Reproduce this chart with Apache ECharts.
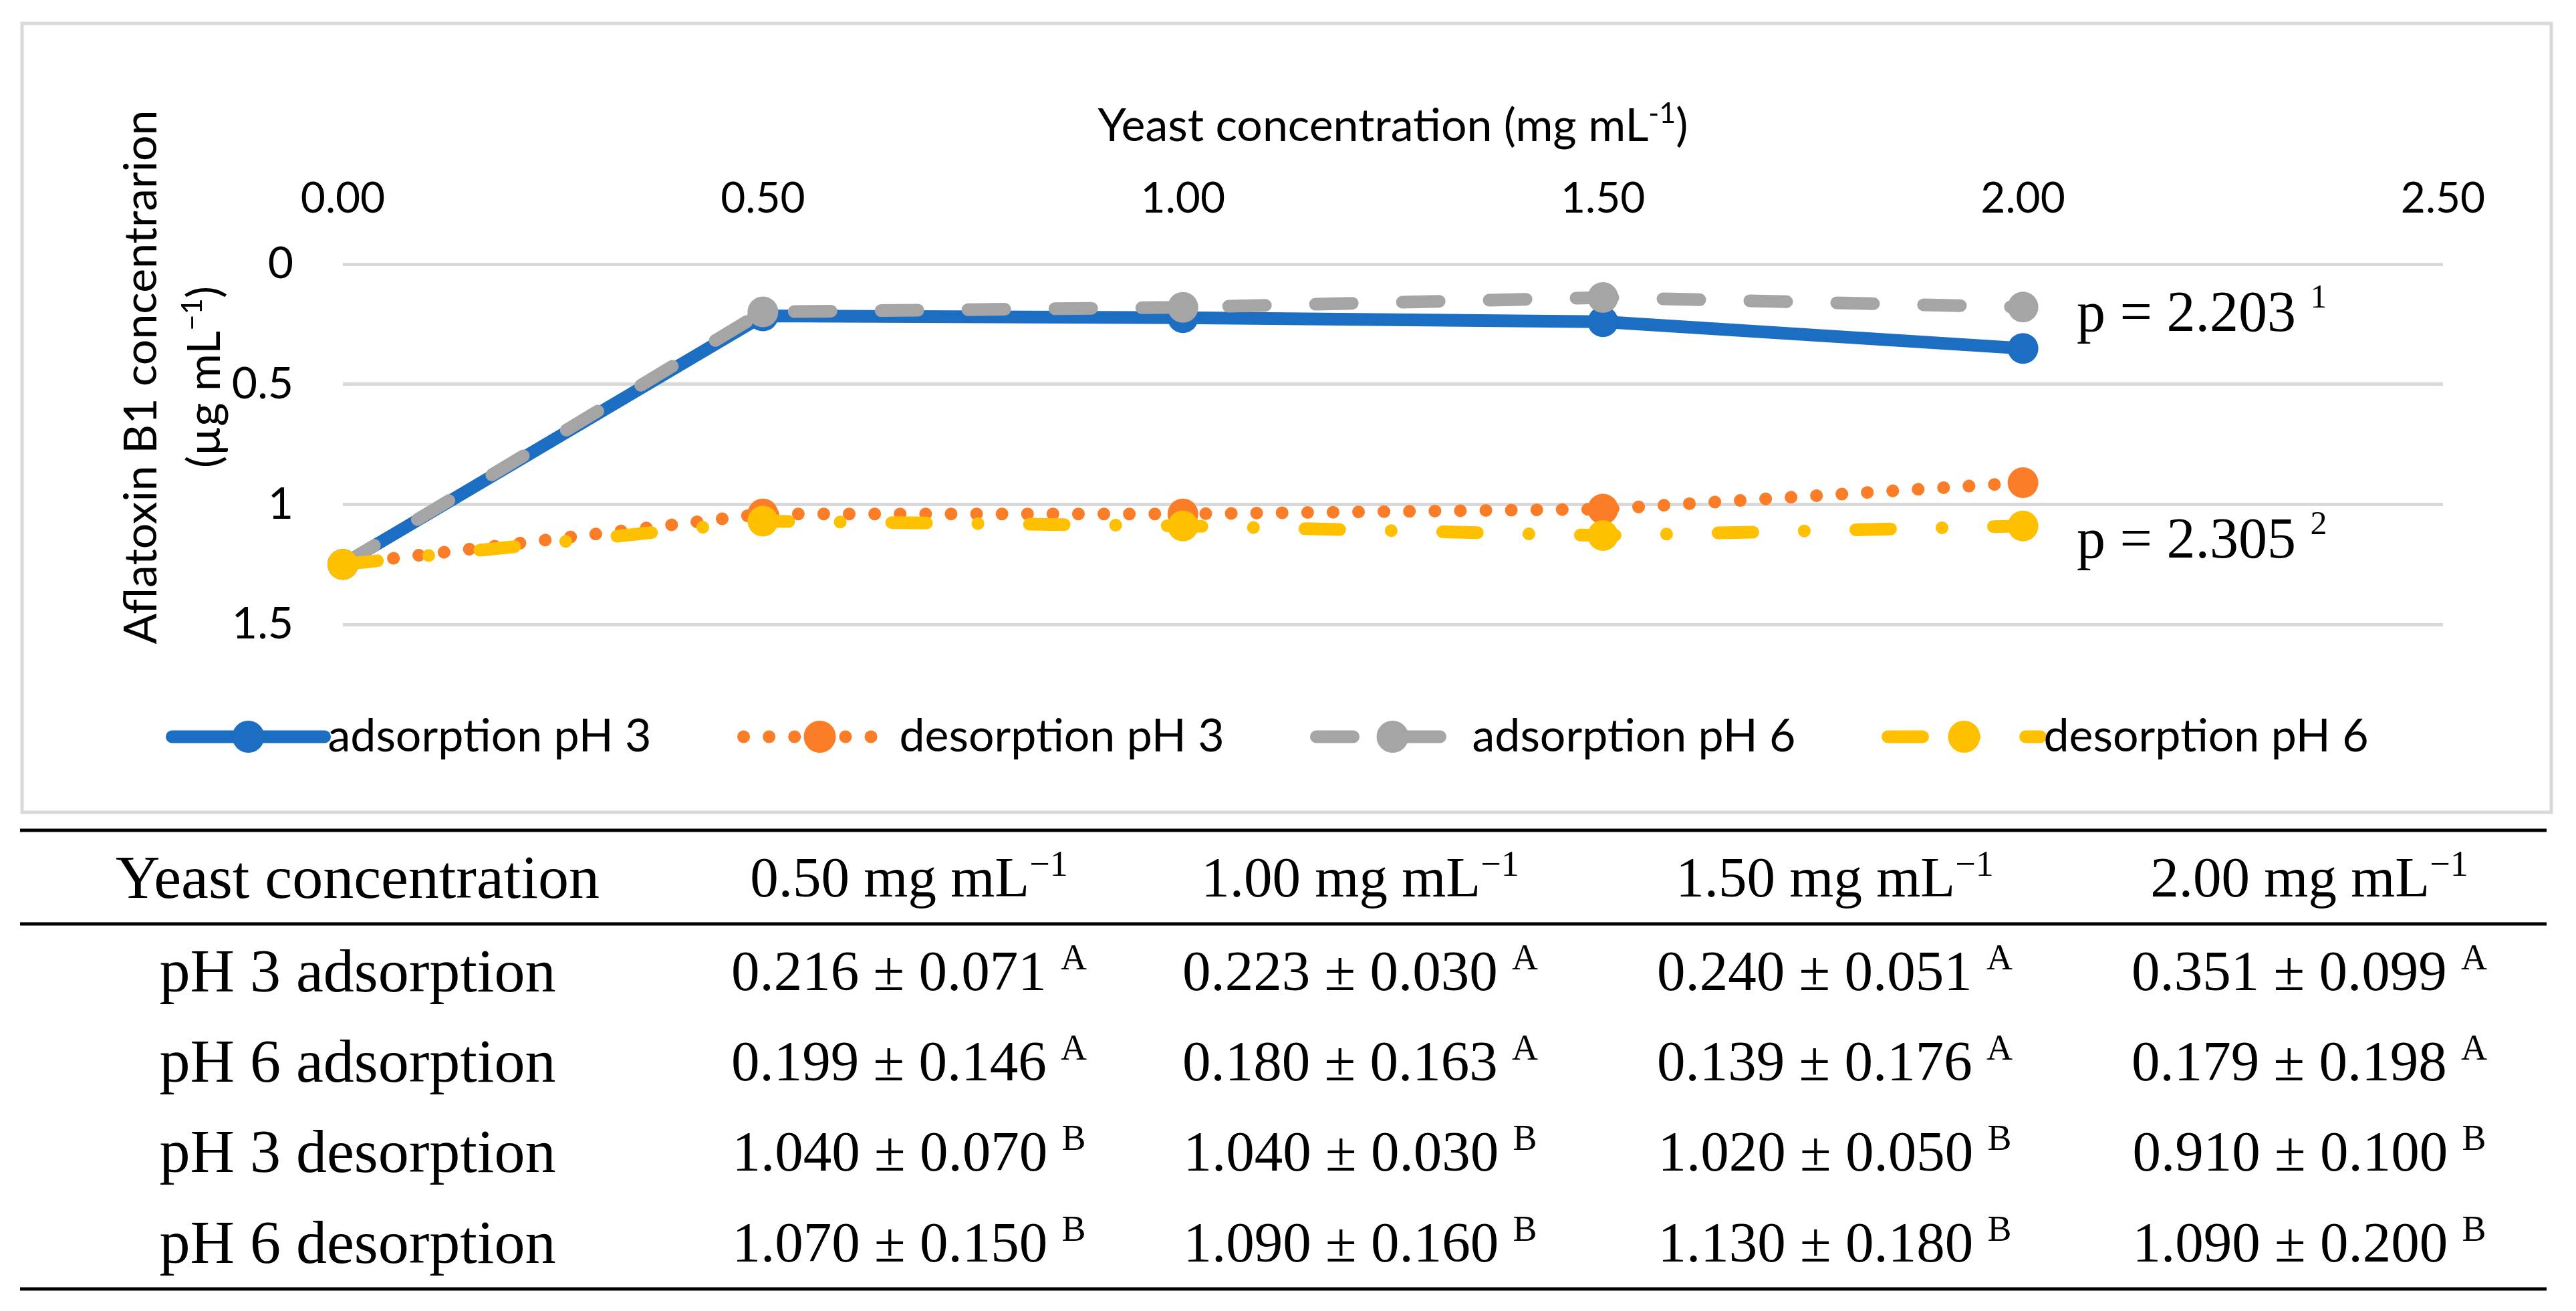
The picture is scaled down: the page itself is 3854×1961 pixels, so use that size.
<!DOCTYPE html>
<html>
<head>
<meta charset="utf-8">
<script src="https://cdn.jsdelivr.net/npm/echarts@6/dist/echarts.min.js"></script>
<style>
html,body{margin:0;padding:0;background:#fff;}
#c{width:3854px;height:1961px;}
</style>
</head>
<body>
<div id="c"></div>
<script>
// ---------- data ----------
const xValues = [0, 0.5, 1.0, 1.5, 2.0];
const seriesNames = ['adsorption pH 3', 'desorption pH 3', 'adsorption pH 6', 'desorption pH 6'];
const adsorptionPH3 = [1.25, 0.216, 0.223, 0.240, 0.351];
const desorptionPH3 = [1.25, 1.040, 1.040, 1.020, 0.910];
const adsorptionPH6 = [1.25, 0.199, 0.180, 0.139, 0.179];
const desorptionPH6 = [1.25, 1.070, 1.090, 1.130, 1.090];
const adsorptionPH3SD = [0.071, 0.030, 0.051, 0.099];
const adsorptionPH6SD = [0.146, 0.163, 0.176, 0.198];
const desorptionPH3SD = [0.070, 0.030, 0.050, 0.100];
const desorptionPH6SD = [0.150, 0.160, 0.180, 0.200];
const tableHeaderConc = ['0.50', '1.00', '1.50', '2.00'];
const tableRowLabels = ['pH 3 adsorption', 'pH 6 adsorption', 'pH 3 desorption', 'pH 6 desorption'];
const tableLetters = ['A', 'A', 'B', 'B'];
const pValues = ['2.203', '2.305'];
const pNotes = ['1', '2'];

// ---------- styles ----------
const colors = ['#1b6ec2', '#fb7d27', '#a5a5a5', '#ffc000'];
const dashes = ['solid', [0.1, 38], [55, 75], [52, 77, 0.1, 77]];
const SANS = 'Lato';
const SERIF = 'Liberation Serif';

const lineData = [adsorptionPH3, desorptionPH3, adsorptionPH6, desorptionPH6];
const series = lineData.map((arr, i) => ({
  name: seriesNames[i],
  type: 'line',
  data: arr.map((v, j) => [xValues[j], v]),
  symbol: 'circle',
  symbolSize: 46,
  color: colors[i],
  itemStyle: { color: colors[i] },
  lineStyle: { color: colors[i], width: 19, type: dashes[i], cap: 'round', join: 'round' },
  z: 2 + i,
  animation: false
}));

// ---------- legends (one per series for exact placement) ----------
const legendLeft = [243, 1098, 1955, 2810];
const legends = seriesNames.map((n, i) => ({
  data: [n],
  left: legendLeft[i], top: 1063,
  itemWidth: 228, itemHeight: 60,
  lineStyle: { width: 19 },
  textStyle: { fontFamily: SANS, fontSize: 68, color: '#000' }
}));

// ---------- table ----------
const colX = [535, 1360, 2035, 2745, 3455];
const rowY = [1319, 1459, 1594, 1729, 1865];
const tableRich = {
  m: { fontFamily: SERIF, fontSize: 85, lineHeight: 100, color: '#000' },
  s: { fontFamily: SERIF, fontSize: 54, lineHeight: 78, verticalAlign: 'top', color: '#000' },
  w: { fontFamily: SERIF, fontSize: 92, lineHeight: 100, color: '#000' }
};
const graphics = [];
graphics.push({
  type: 'rect', z: 0, silent: true,
  shape: { x: 33, y: 35, width: 3784, height: 1180 },
  style: { fill: 'none', stroke: '#d9d9d9', lineWidth: 5 }
});
[1242, 1382, 1928].forEach(yy => graphics.push({
  type: 'line', silent: true,
  shape: { x1: 30, y1: yy, x2: 3810, y2: yy },
  style: { stroke: '#000', lineWidth: 5 }
}));
function cell(x, y, text) {
  graphics.push({
    type: 'text', silent: true, x: x, y: y,
    style: { text: text, rich: tableRich, align: 'center', verticalAlign: 'middle' }
  });
}
cell(colX[0], rowY[0], '{w|Yeast concentration}');
tableHeaderConc.forEach((c, k) => cell(colX[k + 1], rowY[0], '{m|' + c + ' mg mL}{s|\u22121}'));
const tableMeans = [adsorptionPH3.slice(1), adsorptionPH6.slice(1), desorptionPH3.slice(1), desorptionPH6.slice(1)];
const tableSDs = [adsorptionPH3SD, adsorptionPH6SD, desorptionPH3SD, desorptionPH6SD];
tableRowLabels.forEach((lab, r) => {
  cell(colX[0], rowY[r + 1], '{w|' + lab + '}');
  tableMeans[r].forEach((m, k) => {
    cell(colX[k + 1], rowY[r + 1],
      '{m|' + m.toFixed(3) + ' \u00b1 ' + tableSDs[r][k].toFixed(3) + ' }{s|' + tableLetters[r] + '}');
  });
});

// p annotations
[472, 811].forEach((yy, i) => graphics.push({
  type: 'text', silent: true, x: 3107, y: yy,
  style: {
    text: '{m|p = ' + pValues[i] + ' }{s|' + pNotes[i] + '}',
    rich: {
      m: { fontFamily: SERIF, fontSize: 86, lineHeight: 100, color: '#000' },
      s: { fontFamily: SERIF, fontSize: 50, lineHeight: 74, verticalAlign: 'top', color: '#000' }
    },
    align: 'left', verticalAlign: 'middle'
  }
}));

// y-axis title (two rotated lines)
const yTitleRich = {
  m: { fontFamily: SANS, fontSize: 68, lineHeight: 80, color: '#000' },
  s: { fontFamily: SANS, fontSize: 42, lineHeight: 54, verticalAlign: 'top', color: '#000' }
};
graphics.push({
  type: 'text', silent: true, x: 212, y: 564, rotation: Math.PI / 2,
  style: { text: '{m|Aflatoxin B1 concentrarion}', rich: yTitleRich, align: 'center', verticalAlign: 'middle' }
});
graphics.push({
  type: 'text', silent: true, x: 307, y: 564, rotation: Math.PI / 2,
  style: { text: '{m|(\u00b5g mL}{s|\u22121}{m|)}', rich: yTitleRich, align: 'center', verticalAlign: 'middle' }
});

const chart = echarts.init(document.getElementById('c'), null, { renderer: 'canvas' });
chart.setOption({
  backgroundColor: '#fff',
  animation: false,
  grid: { left: 513, right: 199, top: 395, bottom: 1027, containLabel: false },
  xAxis: {
    type: 'value', position: 'top', min: 0, max: 2.5, interval: 0.5,
    axisLine: { show: false }, axisTick: { show: false }, splitLine: { show: false },
    axisLabel: {
      margin: 66, fontFamily: SANS, fontSize: 64, lineHeight: 64, color: '#000',
      formatter: v => v.toFixed(2)
    },
    name: '{m|Yeast concentration (mg mL}{s|-1}{m|)}',
    nameLocation: 'middle', nameGap: 166,
    nameTextStyle: {
      rich: {
        m: { fontFamily: SANS, fontSize: 68, lineHeight: 80, color: '#000' },
        s: { fontFamily: SANS, fontSize: 43, lineHeight: 53, verticalAlign: 'top', color: '#000' }
      }
    }
  },
  yAxis: {
    type: 'value', inverse: true, min: 0, max: 1.5, interval: 0.5,
    axisLine: { show: false }, axisTick: { show: false },
    splitLine: { show: true, lineStyle: { color: '#d9d9d9', width: 5 } },
    axisLabel: { margin: 74, fontFamily: SANS, fontSize: 66, color: '#000' }
  },
  legend: legends,
  graphic: graphics,
  series: series
});
</script>
</body>
</html>
